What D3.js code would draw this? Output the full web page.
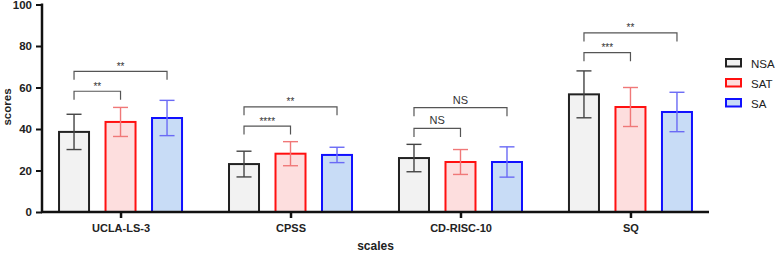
<!DOCTYPE html>
<html lang="en">
<head>
<meta charset="UTF-8">
<title>Scores by scale</title>
<script src="https://d3js.org/d3.v7.min.js"></script>
<style>
  body { margin: 0; background: #fff; }
  text { font-family: Helvetica, Arial, "Liberation Sans", sans-serif; }
</style>
</head>
<body>
<svg id="chart" width="777" height="253"></svg>
<script>
  // data
  const scales = ["UCLA-LS-3", "CPSS", "CD-RISC-10", "SQ"];
  const groups = ["NSA", "SAT", "SA"];
  const means = {
    NSA: [38.6, 23.1, 26.0, 56.7],
    SAT: [43.4, 28.1, 24.1, 50.6],
    SA:  [45.3, 27.5, 24.1, 48.2]
  };
  const sds = {
    NSA: [8.5, 6.2, 6.6, 11.3],
    SAT: [7.0, 5.8, 6.0, 9.4],
    SA:  [8.5, 3.7, 7.3, 9.5]
  };
  const yTicks = [0, 20, 40, 60, 80, 100];
  // significance brackets: scale, from group, to group, height, label
  const brackets = [
    ["UCLA-LS-3", "NSA", "SAT", 58.2, "**"],
    ["UCLA-LS-3", "NSA", "SA", 67.8, "**"],
    ["CPSS", "NSA", "SAT", 41.4, "****"],
    ["CPSS", "NSA", "SA", 50.7, "**"],
    ["CD-RISC-10", "NSA", "SAT", 40.3, "NS"],
    ["CD-RISC-10", "NSA", "SA", 50.3, "NS"],
    ["SQ", "NSA", "SAT", 76.8, "***"],
    ["SQ", "NSA", "SA", 86.3, "**"]
  ];

  const fills = { NSA: "#f2f2f2", SAT: "#fddede", SA: "#c8dcf6" };
  const strokes = { NSA: "#222", SAT: "#ff1010", SA: "#1010ff" };
  const errColors = { NSA: "#444", SAT: "#f07878", SA: "#6a6af5" };

  const svg = d3.select("#chart");
  const x0 = 42, x1 = 709, yBottom = 212, yTop = 4.5;

  const x = d3.scalePoint().domain(scales).range([x0, x1]).padding(0.462);
  const xs = d3.scalePoint().domain(groups).range([-46.5, 46.5]);
  const y = d3.scaleLinear().domain([0, 100]).range([yBottom, yTop]);
  const barW = 30;

  // bars
  groups.forEach(g => {
    const cx = i => x(scales[i]) + xs(g);
    svg.append("g").selectAll("rect")
      .data(means[g])
      .join("rect")
      .attr("x", (d, i) => cx(i) - barW / 2)
      .attr("y", d => y(d))
      .attr("width", barW)
      .attr("height", d => y(0) - y(d))
      .attr("fill", fills[g])
      .attr("stroke", strokes[g])
      .attr("stroke-width", 2);

    // error bars
    const eg = svg.append("g").attr("stroke", errColors[g]).attr("stroke-width", 1.4).attr("fill", "none");
    means[g].forEach((m, i) => {
      const c = cx(i), s = sds[g][i];
      eg.append("line").attr("x1", c).attr("x2", c).attr("y1", y(m + s)).attr("y2", y(m - s));
      eg.append("line").attr("x1", c - 7.5).attr("x2", c + 7.5).attr("y1", y(m + s)).attr("y2", y(m + s));
      eg.append("line").attr("x1", c - 7.5).attr("x2", c + 7.5).attr("y1", y(m - s)).attr("y2", y(m - s));
    });
  });

  // significance brackets
  const bg = svg.append("g");
  brackets.forEach(([sc, a, b, h, lab]) => {
    const xa = x(sc) + xs(a), xb = x(sc) + xs(b), yy = y(h);
    bg.append("path")
      .attr("d", `M${xa},${yy + 8.5}V${yy}H${xb}V${yy + 8.5}`)
      .attr("fill", "none")
      .attr("stroke", "#555")
      .attr("stroke-width", 1.2);
    bg.append("text")
      .attr("x", (xa + xb) / 2)
      .attr("y", lab === "NS" ? yy - 4 : yy - 1.5)
      .attr("text-anchor", "middle")
      .attr("font-size", lab === "NS" ? "11px" : "10px")
      .attr("fill", "#333")
      .text(lab);
  });

  // Y axis
  const yAxis = svg.append("g")
    .attr("transform", `translate(${x0},0)`)
    .call(d3.axisLeft(y).tickValues(yTicks).tickSize(6).tickPadding(4));
  yAxis.select(".domain").attr("stroke", "#111").attr("stroke-width", 2.5).attr("d", `M0,${yTop - 1}V${yBottom}`);
  yAxis.selectAll(".tick line").attr("stroke", "#111").attr("stroke-width", 2);
  yAxis.selectAll(".tick text").attr("font-size", "11.5px").attr("font-weight", "bold").attr("fill", "#222")
    .style("font-family", "Helvetica, Arial, 'Liberation Sans', sans-serif");

  // X axis
  const xAxis = svg.append("g")
    .attr("transform", `translate(0,${yBottom})`)
    .call(d3.axisBottom(x).tickSize(6).tickPadding(6));
  xAxis.select(".domain").attr("stroke", "#111").attr("stroke-width", 2.5).attr("d", `M${x0 - 1},0H${x1}`);
  xAxis.selectAll(".tick line").attr("stroke", "#111").attr("stroke-width", 2.5);
  xAxis.selectAll(".tick text").attr("font-size", "11px").attr("font-weight", "bold").attr("fill", "#222")
    .style("font-family", "Helvetica, Arial, 'Liberation Sans', sans-serif");

  // axis labels
  svg.append("text")
    .attr("x", 375.5)
    .attr("y", 250)
    .attr("text-anchor", "middle")
    .attr("font-size", "12px")
    .attr("font-weight", "bold")
    .attr("fill", "#222")
    .text("scales");

  svg.append("text")
    .attr("transform", `translate(11,107) rotate(-90)`)
    .attr("text-anchor", "middle")
    .attr("font-size", "11.5px")
    .attr("font-weight", "bold")
    .attr("fill", "#222")
    .text("scores");

  // legend
  const lg = svg.append("g").attr("transform", "translate(726,59)");
  groups.forEach((g, i) => {
    lg.append("rect")
      .attr("x", 0).attr("y", i * 20)
      .attr("width", 15).attr("height", 7.5)
      .attr("fill", fills[g]).attr("stroke", strokes[g]).attr("stroke-width", 2);
    lg.append("text")
      .attr("x", 25).attr("y", i * 20 + 8.5)
      .attr("font-size", "11.5px")
      .attr("fill", "#222")
      .text(g);
  });
</script>
</body>
</html>
